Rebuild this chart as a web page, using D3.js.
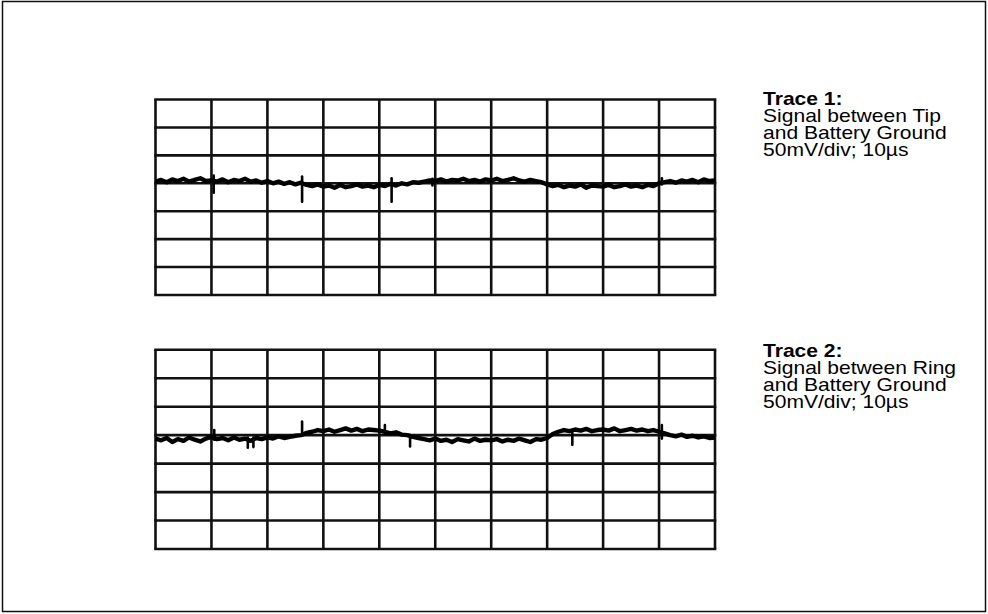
<!DOCTYPE html>
<html><head><meta charset="utf-8">
<script src="https://cdn.jsdelivr.net/npm/d3@7"></script>
<style>html,body{margin:0;padding:0;background:#fff}svg{display:block}</style>
</head><body>
<svg id="c" width="988" height="614"></svg>
<script>
// time axis (µs), 10 µs/div
const timeTicks = [0,10,20,30,40,50,60,70,80,90,100];
// voltage axis (mV), 50 mV/div, trace baseline at 0
const voltTicks = [-200,-150,-100,-50,0,50,100,150];
const sampleTimes = d3.range(0, 101, 1);
const trace1 = [3,6,2,7,4,8,3,6,9,4, 5,3,7,2,6,4,8,3,5,1, 4,0,3,-1,2,-2,1,-3,-5,-2,
  -6,-4,-8,-3,-7,-5,-2,-6,-4,-7, -3,-5,-1,-4,0,-2,2,1,3,5, 4,7,3,6,5,8,4,6,3,7,
  5,8,4,6,9,5,3,6,4,2, -2,-5,-3,-7,-4,-6,-2,-8,-4,-5, -6,-3,-7,-5,-2,-6,-4,-7,-3,-5,
  0,2,4,1,5,3,6,2,7,4, 5];
const trace2 = [-6,-9,-5,-12,-7,-10,-4,-8,-11,-6, -3,-7,-5,-9,-4,-8,-6,-10,-5,-7,
  -4,-6,-2,-5,-3,-1,0,4,6,9, 7,10,6,9,12,8,11,7,10,9, 8,6,3,5,1,0,-3,-5,-7,-9,
  -6,-10,-8,-12,-7,-9,-11,-6,-10,-8, -9,-7,-11,-8,-10,-6,-9,-12,-7,-8,
  -5,2,6,9,7,10,8,11,7,9, 10,8,12,7,9,11,8,10,7,9, 6,3,0,-2,1,-3,-1,-4,-2,-5, -4];
// spikes: time, high, low (mV)
const spikes1T = [10.4, 26.2, 42.2, 49.5, 90.5];
const spikes1H = [14, 12, 9, 8, 9];
const spikes1L = [-17, -33, -33, -4, -2];
const spikes2T = [10.5, 16.5, 17.5, 26.2, 41, 45.5, 74.5, 90.5];
const spikes2H = [9, -4, -4, 24, 18, 0, 4, 18];
const spikes2L = [-8, -22, -21, 4, 2, -20, -17, -6];
const labels1 = ["Trace 1:", "Signal between Tip", "and Battery Ground", "50mV/div; 10\u00b5s"];
const labels2 = ["Trace 2:", "Signal between Ring", "and Battery Ground", "50mV/div; 10\u00b5s"];

const svg = d3.select("#c");
svg.append("rect").attr("x",2.5).attr("y",1.5).attr("width",983).attr("height",610)
  .attr("fill","none").attr("stroke","#111").attr("stroke-width",1.5);

function panel(top, bottom, values, sT, sH, sL, labels, textTop) {
  const x = d3.scaleLinear().domain([0,100]).range([155.5,715]);
  const y = d3.scaleLinear().domain([-200,150]).range([bottom, top]);
  const g = svg.append("g");
  g.selectAll("line.v").data(timeTicks).join("line")
    .attr("x1",d=>x(d)).attr("x2",d=>x(d)).attr("y1",y(150)).attr("y2",y(-200))
    .attr("stroke","#111").attr("stroke-width",2.6);
  g.selectAll("line.h").data(voltTicks).join("line")
    .attr("y1",d=>y(d)).attr("y2",d=>y(d)).attr("x1",x(0)-1.3).attr("x2",x(100)+1.3)
    .attr("stroke","#111").attr("stroke-width",2.6);
  const line = d3.line().x((d,i)=>x(sampleTimes[i])).y(d=>y(d)).curve(d3.curveLinear);
  g.append("path").attr("d", line(values)).attr("fill","none").attr("stroke","#000")
    .attr("stroke-width",4.4).attr("stroke-linejoin","round");
  g.selectAll("line.s").data(sT).join("line")
    .attr("x1",d=>x(d)).attr("x2",d=>x(d))
    .attr("y1",(d,i)=>y(sH[i])).attr("y2",(d,i)=>y(sL[i]))
    .attr("stroke","#000").attr("stroke-width",2.6).attr("stroke-linecap","round");
  const t = svg.append("g").attr("font-family","'Liberation Sans', Arial, sans-serif")
    .attr("font-size",18).attr("fill","#000");
  labels.forEach((s,i)=>{
    t.append("text").attr("transform",`translate(763,${textTop + i*17}) scale(1.17,1)`)
      .attr("font-weight", i===0 ? "bold" : "normal").text(s);
  });
}
panel(99.5, 295, trace1, spikes1T, spikes1H, spikes1L, labels1, 104.5);
panel(349.8, 549, trace2, spikes2T, spikes2H, spikes2L, labels2, 357);
</script>
</body></html>
